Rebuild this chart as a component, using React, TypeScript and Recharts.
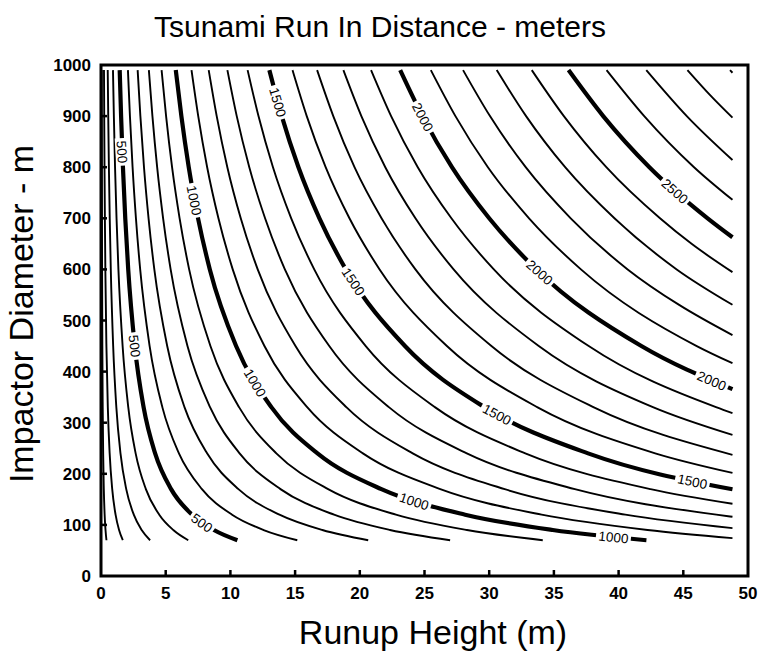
import React from 'react';
import { ComposedChart, Line, XAxis, YAxis, ReferenceArea, ReferenceDot } from 'recharts';

const FONT = '"Liberation Sans", Arial, Helvetica, sans-serif';

const X_TICKS = [0, 5, 10, 15, 20, 25, 30, 35, 40, 45, 50];
const Y_TICKS = [0, 100, 200, 300, 400, 500, 600, 700, 800, 900, 1000];

const LEVELS = [100, 200, 300, 400, 500, 600, 700, 800, 900, 1000, 1100, 1200, 1300, 1400, 1500,
  1600, 1700, 1800, 1900, 2000, 2100, 2200, 2300, 2400, 2500, 2600, 2700, 2800, 2900];

// [runup height (m), impactor diameter (m)]
const RUN_100 = [[0.058, 990], [0.062, 900], [0.068, 800], [0.075, 700], [0.084, 600], [0.104, 450], [0.132, 330], [0.167, 240], [0.217, 170], [0.281, 120], [0.349, 90], [0.422, 70]];
const RUN_200 = [[0.231, 990], [0.248, 900], [0.271, 800], [0.3, 700], [0.336, 600], [0.418, 450], [0.527, 330], [0.669, 240], [0.867, 170], [1.126, 120], [1.396, 90], [1.686, 70]];
const RUN_300 = [[0.52, 990], [0.559, 900], [0.61, 800], [0.675, 700], [0.757, 600], [0.94, 450], [1.186, 330], [1.506, 240], [1.95, 170], [2.533, 120], [3.142, 90], [3.794, 70]];
const RUN_400 = [[0.925, 990], [0.994, 900], [1.085, 800], [1.2, 700], [1.346, 600], [1.67, 450], [2.109, 330], [2.677, 240], [3.467, 170], [4.502, 120], [5.586, 90], [6.744, 70]];
const RUN_500 = [[1.445, 990], [1.553, 900], [1.695, 800], [1.875, 700], [2.103, 600], [2.61, 450], [3.295, 330], [4.183, 240], [5.418, 170], [7.035, 120], [8.728, 90], [10.54, 70]];
const RUN_600 = [[2.081, 990], [2.236, 900], [2.441, 800], [2.7, 700], [3.028, 600], [3.758, 450], [4.745, 330], [6.023, 240], [7.801, 170], [10.13, 120], [12.57, 90], [15.17, 70]];
const RUN_700 = [[2.832, 990], [3.043, 900], [3.322, 800], [3.675, 700], [4.121, 600], [5.116, 450], [6.458, 330], [8.198, 240], [10.62, 170], [13.79, 120], [17.11, 90], [20.65, 70]];
const RUN_800 = [[3.699, 990], [3.974, 900], [4.339, 800], [4.8, 700], [5.382, 600], [6.682, 450], [8.435, 330], [10.71, 240], [13.87, 170], [18.01, 120], [22.34, 90], [26.98, 70]];
const RUN_900 = [[4.682, 990], [5.03, 900], [5.492, 800], [6.075, 700], [6.812, 600], [8.456, 450], [10.68, 330], [13.55, 240], [17.55, 170], [22.79, 120], [28.28, 90], [34.14, 70]];
const RUN_1000 = [[5.78, 990], [6.21, 900], [6.78, 800], [7.5, 700], [8.41, 600], [10.44, 450], [13.18, 330], [16.73, 240], [21.67, 170], [28.14, 120], [34.91, 90], [42.15, 70]];
const RUN_1100 = [[6.994, 990], [7.514, 900], [8.204, 800], [9.075, 700], [10.18, 600], [12.63, 450], [15.95, 330], [20.24, 240], [26.22, 170], [34.05, 120], [42.24, 90], [48.8, 74.2]];
const RUN_1200 = [[8.323, 990], [8.942, 900], [9.763, 800], [10.8, 700], [12.11, 600], [15.03, 450], [18.98, 330], [24.09, 240], [31.2, 170], [40.52, 120], [48.8, 93.6]];
const RUN_1300 = [[9.768, 990], [10.49, 900], [11.46, 800], [12.68, 700], [14.21, 600], [17.64, 450], [22.27, 330], [28.27, 240], [36.62, 170], [47.56, 120], [48.8, 115.9]];
const RUN_1400 = [[11.33, 990], [12.17, 900], [13.29, 800], [14.7, 700], [16.48, 600], [20.46, 450], [25.83, 330], [32.79, 240], [42.47, 170], [48.8, 141.3]];
const RUN_1500 = [[13.01, 990], [13.97, 900], [15.26, 800], [16.88, 700], [18.92, 600], [23.49, 450], [29.66, 330], [37.64, 240], [48.8, 169.7]];
const RUN_1600 = [[14.8, 990], [15.9, 900], [17.36, 800], [19.2, 700], [21.53, 600], [26.73, 450], [33.74, 330], [42.83, 240], [48.8, 201.7]];
const RUN_1700 = [[16.7, 990], [17.95, 900], [19.59, 800], [21.68, 700], [24.3, 600], [30.17, 450], [38.09, 330], [48.8, 237.1]];
const RUN_1800 = [[18.73, 990], [20.12, 900], [21.97, 800], [24.3, 700], [27.25, 600], [33.83, 450], [42.7, 330], [48.8, 276.1]];
const RUN_1900 = [[20.87, 990], [22.42, 900], [24.48, 800], [27.08, 700], [30.36, 600], [37.69, 450], [47.58, 330], [48.8, 318.9]];
const RUN_2000 = [[23.12, 990], [24.84, 900], [27.12, 800], [30.0, 700], [33.64, 600], [41.76, 450], [48.8, 365.6]];
const RUN_2100 = [[25.49, 990], [27.39, 900], [29.9, 800], [33.08, 700], [37.09, 600], [46.04, 450], [48.8, 416.4]];
const RUN_2200 = [[27.98, 990], [30.06, 900], [32.82, 800], [36.3, 700], [40.7, 600], [44.71, 530], [48.8, 471.4]];
const RUN_2300 = [[30.58, 990], [32.85, 900], [35.87, 800], [39.68, 700], [44.49, 600], [48.8, 530.8]];
const RUN_2400 = [[33.29, 990], [35.77, 900], [39.05, 800], [43.2, 700], [45.64, 650], [48.8, 594.6]];
const RUN_2500 = [[36.13, 990], [38.81, 900], [42.38, 800], [46.88, 700], [48.8, 662.9]];
const RUN_2600 = [[39.07, 990], [41.98, 900], [45.83, 800], [48.8, 736.1]];
const RUN_2700 = [[42.14, 990], [45.27, 900], [48.8, 814]];
const RUN_2800 = [[45.32, 990], [47.11, 940], [48.8, 896.9]];
const RUN_2900 = [[48.61, 990], [48.8, 984.8]];

const CONTOUR_POINTS = [RUN_100, RUN_200, RUN_300, RUN_400, RUN_500, RUN_600, RUN_700, RUN_800, RUN_900,
  RUN_1000, RUN_1100, RUN_1200, RUN_1300, RUN_1400, RUN_1500, RUN_1600, RUN_1700, RUN_1800, RUN_1900,
  RUN_2000, RUN_2100, RUN_2200, RUN_2300, RUN_2400, RUN_2500, RUN_2600, RUN_2700, RUN_2800, RUN_2900];

// inline contour labels
const LABEL_TEXT = ['500', '500', '500', '1000', '1000', '1000', '1000', '1500', '1500', '1500', '1500', '2000', '2000', '2000', '2500'];
const LABEL_H = [1.63, 2.6, 7.8, 7.2, 11.9, 24.2, 39.6, 13.66, 19.5, 30.6, 45.7, 24.87, 33.9, 47.2, 44.35];
const LABEL_D = [830, 450, 104, 735, 378, 146, 76, 927, 576, 316, 185, 898, 594, 382, 753];
const LABEL_ANGLE = [86, 83, 35, 79, 59, 18, 6, 74, 57, 28, 12, 62, 42, 23, 42];

const series = LEVELS.map((level, i) => ({
  level,
  data: CONTOUR_POINTS[i].map(([x, y]) => ({ x, y })),
}));

const labels = LABEL_TEXT.map((text, i) => ({ text, x: LABEL_H[i], y: LABEL_D[i], angle: LABEL_ANGLE[i] }));

const BottomTick = (props: any) => {
  const { x, y, payload } = props;
  const v = payload.value;
  return (
    <g>
      {v > 0 && v < 50 && <line x1={x} x2={x} y1={y} y2={y - 6} stroke="#000" strokeWidth={2.5} />}
      <text x={x} y={y + 23} textAnchor="middle" fontFamily={FONT} fontSize={17} fontWeight="bold" fill="#000">{v}</text>
    </g>
  );
};

const TopTick = (props: any) => {
  const { x, y, payload } = props;
  const v = payload.value;
  if (v <= 0 || v >= 50) return <g />;
  return <line x1={x} x2={x} y1={y} y2={y + 6} stroke="#000" strokeWidth={2.5} />;
};

const LeftTick = (props: any) => {
  const { x, y, payload } = props;
  const v = payload.value;
  return (
    <g>
      {v > 0 && v < 1000 && <line x1={x} x2={x + 6} y1={y} y2={y} stroke="#000" strokeWidth={2.5} />}
      <text x={x - 10} y={y + 6} textAnchor="end" fontFamily={FONT} fontSize={17} fontWeight="bold" fill="#000">{v}</text>
    </g>
  );
};

const RightTick = (props: any) => {
  const { x, y, payload } = props;
  const v = payload.value;
  if (v <= 0 || v >= 1000) return <g />;
  return <line x1={x} x2={x - 6} y1={y} y2={y} stroke="#000" strokeWidth={2.5} />;
};

const makeLabelShape = (text: string, angle: number) => (props: any) => {
  const { cx, cy } = props;
  const w = text.length * 7.5 + 5;
  return (
    <g transform={`translate(${cx},${cy}) rotate(${angle})`}>
      <rect x={-w / 2} y={-6.5} width={w} height={13} fill="#fff" />
      <text x={0} y={4.8} textAnchor="middle" fontFamily={FONT} fontSize={13.5} fill="#000">{text}</text>
    </g>
  );
};

export default function App() {
  return (
    <div style={{ position: 'absolute', left: 0, top: 0, width: 760, height: 655, background: '#fff' }}>
      <ComposedChart width={760} height={655} margin={{ top: 55, right: 2, bottom: 49, left: 41 }}>
        <XAxis dataKey="x" type="number" domain={[0, 50]} ticks={X_TICKS} interval={0} allowDataOverflow
          tick={<BottomTick />} tickLine={false} axisLine={false} tickSize={0} tickMargin={0} height={30} />
        <XAxis xAxisId="top" orientation="top" type="number" domain={[0, 50]} ticks={X_TICKS} interval={0}
          tick={<TopTick />} tickLine={false} axisLine={false} tickSize={0} tickMargin={0} height={10} />
        <YAxis dataKey="y" type="number" domain={[0, 1000]} ticks={Y_TICKS} interval={0} allowDataOverflow
          tick={<LeftTick />} tickLine={false} axisLine={false} tickSize={0} tickMargin={0} width={60} />
        <YAxis yAxisId="right" orientation="right" type="number" domain={[0, 1000]} ticks={Y_TICKS} interval={0}
          tick={<RightTick />} tickLine={false} axisLine={false} tickSize={0} tickMargin={0} width={10} />
        <ReferenceArea x1={0} x2={50} y1={0} y2={1000} fill="none" fillOpacity={0} stroke="#000" strokeWidth={3} />
        {series.map((s) => (
          <Line key={s.level} data={s.data} dataKey="y" type="monotone" stroke="#000"
            strokeWidth={s.level % 500 === 0 ? 4.2 : 1.9} dot={false} activeDot={false}
            isAnimationActive={false} legendType="none" />
        ))}
        {labels.map((l, i) => (
          <ReferenceDot key={i} x={l.x} y={l.y} r={1} shape={makeLabelShape(l.text, l.angle)} />
        ))}
      </ComposedChart>
      <svg width={760} height={655} style={{ position: 'absolute', left: 0, top: 0, pointerEvents: 'none' }}>
        <text x={380} y={37} textAnchor="middle" fontFamily={FONT} fontSize={30} fill="#000">Tsunami Run In Distance - meters</text>
        <text x={433} y={644} textAnchor="middle" fontFamily={FONT} fontSize={34} fill="#000">Runup Height (m)</text>
        <text transform="translate(33,314) rotate(-90)" textAnchor="middle" fontFamily={FONT} fontSize={34} fill="#000">Impactor Diameter - m</text>
      </svg>
    </div>
  );
}
